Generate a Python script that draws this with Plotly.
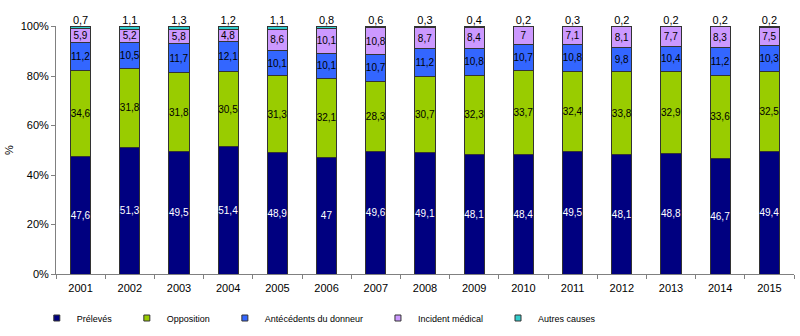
import plotly.graph_objects as go

years = [str(y) for y in range(2001, 2016)]
preleves = [47.6, 51.3, 49.5, 51.4, 48.9, 47, 49.6, 49.1, 48.1, 48.4, 49.5, 48.1, 48.8, 46.7, 49.4]
opposition = [34.6, 31.8, 31.8, 30.5, 31.3, 32.1, 28.3, 30.7, 32.3, 33.7, 32.4, 33.8, 32.9, 33.6, 32.5]
antecedents = [11.2, 10.5, 11.7, 12.1, 10.1, 10.1, 10.7, 11.2, 10.8, 10.7, 10.8, 9.8, 10.4, 11.2, 10.3]
incident = [5.9, 5.2, 5.8, 4.8, 8.6, 10.1, 10.8, 8.7, 8.4, 7, 7.1, 8.1, 7.7, 8.3, 7.5]
autres = [0.7, 1.1, 1.3, 1.2, 1.1, 0.8, 0.6, 0.3, 0.4, 0.2, 0.3, 0.2, 0.2, 0.2, 0.2]

series = [
    ("Prélevés", preleves, "#000080", "white"),
    ("Opposition", opposition, "#99CC00", "black"),
    ("Antécédents du donneur", antecedents, "#3366FF", "black"),
    ("Incident médical", incident, "#CC99FF", "black"),
    ("Autres causes", autres, "#33CCCC", "black"),
]

FONT = "Liberation Sans, Arial, sans-serif"
PAD = "\u00a0" * 4

def fmt(v):
    return f"{v:g}".replace(".", ",")

fig = go.Figure()
for i, (name, vals, col, tcol) in enumerate(series):
    last = i == len(series) - 1
    fig.add_trace(go.Bar(
        x=years, y=vals, name=name, showlegend=False,
        marker=dict(color=col, line=dict(color="#333333", width=1)),
        text=None if last else [fmt(v) for v in vals],
        textposition="none" if last else "inside",
        insidetextanchor="middle",
        textangle=0,
        constraintext="none",
        cliponaxis=False,
        textfont=dict(family=FONT, size=10, color=tcol),
    ))

# labels of the top segment, placed above each stack
totals = [sum(s[1][k] for s in series) for k in range(len(years))]
fig.add_trace(go.Scatter(
    x=years, y=totals, mode="text", text=[fmt(v) for v in autres],
    textposition="top center", cliponaxis=False, showlegend=False, hoverinfo="skip",
    textfont=dict(family=FONT, size=11, color="black"),
))

for name, vals, col, tcol in series:
    fig.add_trace(go.Scatter(
        x=[None], y=[None], mode="markers", name=name + PAD,
        marker=dict(symbol="square", size=6, color=col, line=dict(color="#333333", width=1)),
    ))

fig.update_layout(
    width=800, height=336,
    margin=dict(l=56, r=6, t=26, b=62),
    barmode="stack", bargap=0.59,
    paper_bgcolor="white", plot_bgcolor="white",
    font=dict(family=FONT, size=11, color="black"),
    legend=dict(orientation="h", x=0.046, xref="container", y=18 / 336, yref="container",
                xanchor="left", yanchor="middle", traceorder="normal",
                font=dict(size=9), itemwidth=30, tracegroupgap=0),
    xaxis=dict(type="category", range=[-0.5, len(years) - 0.5],
               tickson="boundaries", ticks="outside", ticklen=4,
               tickcolor="#808080", showline=True, linecolor="#808080", linewidth=1,
               showgrid=False, tickfont=dict(size=11), ticklabelstandoff=4,
               automargin=False),
    yaxis=dict(range=[0, 100.2], tick0=0, dtick=20, ticksuffix="%",
               ticks="outside", ticklen=4,
               tickcolor="#808080", showline=True, linecolor="#808080", linewidth=1,
               showgrid=False, zeroline=False, tickfont=dict(size=11),
               title=dict(text="%", font=dict(size=11), standoff=4),
               automargin=False),
)

fig.write_html("out.html")
